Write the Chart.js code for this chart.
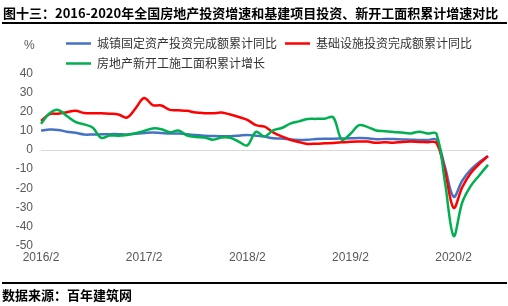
<!DOCTYPE html>
<html><head><meta charset="utf-8">
<script src="https://cdn.jsdelivr.net/npm/chart.js@4.4.1/dist/chart.umd.min.js"></script>
<style>
html,body{margin:0;padding:0;background:#fff;}
#wrap{position:relative;width:508px;height:306px;overflow:hidden;background:#fff;}
#c{position:absolute;left:0;top:0;}
.t{position:absolute;font-family:"Noto Sans CJK SC",sans-serif;font-weight:700;color:#000;white-space:nowrap;line-height:1;z-index:2;}
.rule{position:absolute;left:2px;width:505px;height:2px;background:#000;z-index:2;}
.unit{position:absolute;font-family:"Liberation Sans",Arial,sans-serif;font-size:12px;color:#595959;line-height:1;z-index:2;}
</style></head>
<body><div id="wrap">
<canvas id="c" width="508" height="306"></canvas>
<div class="t" style="left:3px;top:6px;font-size:13px;">图十三：2016-2020年全国房地产投资增速和基建项目投资、新开工面积累计增速对比</div>
<div class="rule" style="top:22px"></div>
<div class="unit" style="left:24px;top:39px">%</div>
<div class="rule" style="top:282px"></div>
<div class="t" style="left:2px;top:288px;font-size:13px;">数据来源：百年建筑网</div>
</div>
<script>
const categories = [
 '2016/2','2016/3','2016/4','2016/5','2016/6','2016/7','2016/8','2016/9','2016/10','2016/11','2016/12',
 '2017/1','2017/2','2017/3','2017/4','2017/5','2017/6','2017/7','2017/8','2017/9','2017/10','2017/11','2017/12',
 '2018/1','2018/2','2018/3','2018/4','2018/5','2018/6','2018/7','2018/8','2018/9','2018/10','2018/11','2018/12',
 '2019/1','2019/2','2019/3','2019/4','2019/5','2019/6','2019/7','2019/8','2019/9','2019/10','2019/11','2019/12',
 '2020/1','2020/2','2020/3','2020/4','2020/5','2020/6'
];
const tickLabels = ['2016/2','2017/2','2018/2','2019/2','2020/2'];

const seriesNames = ['城镇固定资产投资完成额累计同比','基础设施投资完成额累计同比','房地产新开工施工面积累计增长'];

const fixedAssetInv = [
 10.2,10.7,10.5,9.6,9.0,8.1,8.1,8.2,8.3,8.3,8.1,
 8.5,8.9,9.2,8.9,8.6,8.6,8.3,7.8,7.5,7.3,7.2,7.2,
 7.5,7.9,7.5,7.0,6.1,6.0,5.5,5.3,5.4,5.7,5.9,5.9,
 6.0,6.1,6.3,6.1,5.6,5.8,5.7,5.5,5.4,5.2,5.2,5.4,
 -9.0,-24.5,-16.1,-10.3,-6.3,-3.1
];
const infraInv = [
 15.2,18.8,19.0,19.8,20.6,19.4,19.2,19.2,19.0,18.6,17.0,
 21.8,27.2,23.5,23.3,21.0,20.8,20.5,19.6,19.3,19.2,19.6,18.6,
 17.3,15.8,13.0,12.2,9.2,7.1,5.4,4.2,3.2,3.3,3.5,3.7,
 4.0,4.3,4.4,4.4,3.8,4.1,3.8,4.2,4.4,4.2,4.1,3.8,
 -11.0,-30.3,-19.5,-12.0,-7.2,-3.2
];
const newStarts = [
 13.7,19.2,21.0,17.8,14.7,13.4,11.8,6.4,7.6,7.5,7.9,
 8.8,10.0,11.3,10.9,9.3,10.2,7.6,6.8,6.6,5.4,6.5,6.4,
 4.4,2.4,9.5,7.1,10.3,11.5,13.8,15.0,16.2,16.3,16.4,17.1,
 5.3,8.5,13.0,12.0,10.2,9.8,9.4,9.1,8.7,9.6,8.6,8.6,
 -17.0,-45.0,-27.5,-18.8,-13.2,-7.8
];

const tickFont = {family:'"Liberation Sans", Arial, sans-serif', size:12};

function ds(label, data, color, order){
  return {label, data, borderColor:color, backgroundColor:color, borderWidth:2.5,
    pointRadius:0, pointHoverRadius:0, tension:0.35, fill:false, order};
}

new Chart(document.getElementById('c').getContext('2d'), {
  type:'line',
  data:{
    labels:categories,
    datasets:[
      ds(seriesNames[0], fixedAssetInv, '#4472C4', 3),
      ds(seriesNames[1], infraInv, '#FF0000', 2),
      ds(seriesNames[2], newStarts, '#00B050', 1)
    ]
  },
  options:{
    responsive:false, animation:false, devicePixelRatio:1,
    layout:{padding:{left:0,right:20,top:23.6,bottom:40.5}},
    plugins:{
      legend:{position:'top', align:'start',
        labels:{usePointStyle:true, pointStyle:'line', pointStyleWidth:25, padding:8, color:'#333',
          font:{family:'"Noto Sans CJK SC", sans-serif', size:12},
          sort:(a,b)=>a.datasetIndex-b.datasetIndex}},
      tooltip:{enabled:false}
    },
    scales:{
      x:{
        grid:{display:false, drawTicks:false}, border:{display:false},
        ticks:{autoSkip:false, maxRotation:0, minRotation:0, padding:5, color:'#595959', font:tickFont,
          callback:function(v){ const l=this.getLabelForValue(v); return tickLabels.includes(l)?l:''; }},
        afterFit:s=>{s.height=20;}
      },
      y:{
        min:-50, max:40,
        ticks:{stepSize:10, padding:8, color:'#595959', font:tickFont},
        grid:{drawTicks:false, lineWidth:1, color:c=>(c.tick && c.tick.value===0)?'#d9d9d9':'rgba(0,0,0,0)'},
        border:{display:false},
        afterFit:s=>{s.width=41;}
      }
    }
  },
  plugins:[{id:'legendShift', afterLayout(chart){ chart.legend.left += 58; chart.legend.top += 5.9; }}]
});
</script>
</body></html>
